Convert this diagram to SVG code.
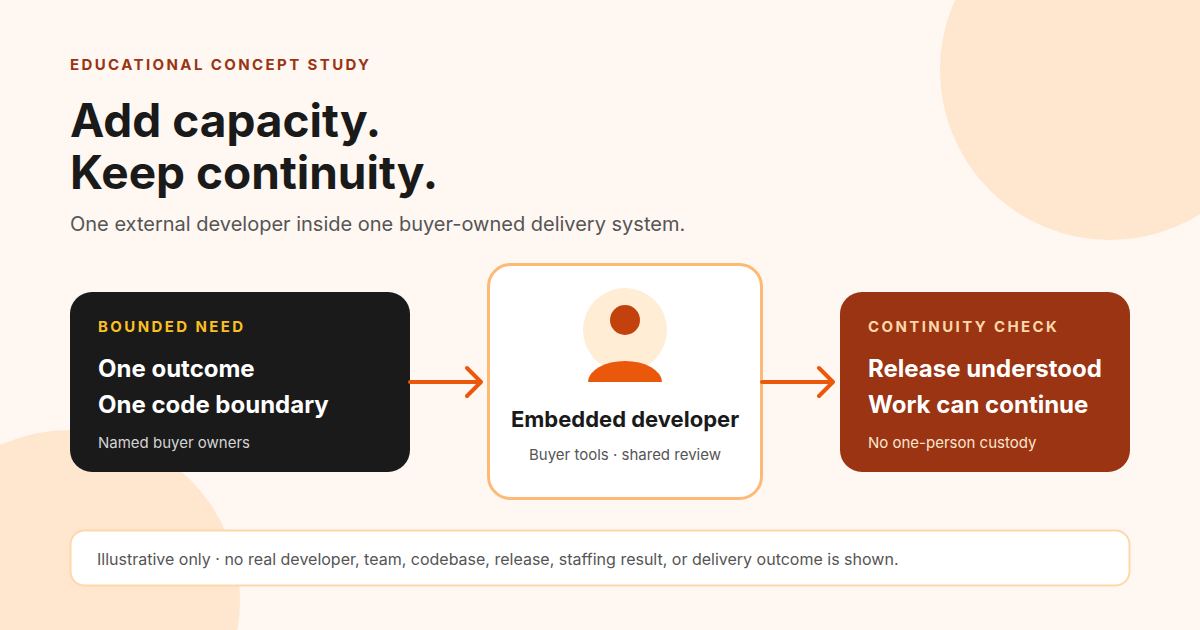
<svg xmlns="http://www.w3.org/2000/svg" width="1200" height="630" viewBox="0 0 1200 630">
<style>
text{font-family:"Inter","Liberation Sans",sans-serif}
.cap{font-size:15px;font-weight:700;letter-spacing:2.4px}
.big{font-size:24px;font-weight:700;fill:#fff}
.small{font-size:15px}
.conn{stroke:#ea580c;stroke-width:4;fill:none;stroke-linecap:round;stroke-linejoin:round}
</style>
<rect width="1200" height="630" fill="#fff7f1"/>
<circle cx="1110" cy="70" r="170" fill="#ffe6cf"/>
<circle cx="70" cy="600" r="170" fill="#ffe6cf"/>
<text x="70" y="70" class="cap" fill="#9a3412" font-size="16">EDUCATIONAL CONCEPT STUDY</text>
<text x="70" y="137" font-size="46" font-weight="700" fill="#1a1a1a">Add capacity.</text>
<text x="70" y="189" font-size="46" font-weight="700" fill="#1a1a1a">Keep continuity.</text>
<text x="70" y="231" font-size="20" fill="#555">One external developer inside one buyer-owned delivery system.</text>
<g id="need">
<rect x="70" y="292" width="340" height="180" rx="22" fill="#1a1a1a"/>
<text x="98" y="332" class="cap" fill="#fbbf24" font-size="14">BOUNDED NEED</text>
<text x="98" y="377" class="big">One outcome</text>
<text x="98" y="413" class="big">One code boundary</text>
<text x="98" y="448" class="small" fill="#d4d4d4">Named buyer owners</text>
</g>
<g id="dev">
<rect x="488.5" y="264.5" width="273" height="234" rx="22" fill="#fff" stroke="#fdba74" stroke-width="3"/>
<circle cx="625" cy="330" r="42" fill="#ffedd5"/>
<circle cx="625" cy="320" r="15" fill="#c2410c"/>
<path d="M588 382 A37 21 0 0 1 662 382 Z" fill="#ea580c"/>
<text x="625" y="427" text-anchor="middle" font-size="22" font-weight="700" fill="#1a1a1a">Embedded developer</text>
<text x="625" y="460" text-anchor="middle" class="small" fill="#555">Buyer tools · shared review</text>
</g>
<g id="check">
<rect x="840" y="292" width="290" height="180" rx="22" fill="#9a3412"/>
<text x="868" y="332" class="cap" fill="#fed7aa" font-size="14">CONTINUITY CHECK</text>
<text x="868" y="377" class="big">Release understood</text>
<text x="868" y="413" class="big">Work can continue</text>
<text x="868" y="448" class="small" fill="#fde4cf">No one-person custody</text>
</g>
<g id="connectors">
<path class="conn" d="M410 382 H481 M467 368 L481 382 L467 396"/>
<path class="conn" d="M762 382 H833 M819 368 L833 382 L819 396"/>
</g>
<g id="note">
<rect x="70.5" y="530.5" width="1059" height="55" rx="14" fill="#fff" stroke="#fed7aa" stroke-width="2"/>
<text x="97" y="565" font-size="16" fill="#555">Illustrative only · no real developer, team, codebase, release, staffing result, or delivery outcome is shown.</text>
</g>
</svg>
